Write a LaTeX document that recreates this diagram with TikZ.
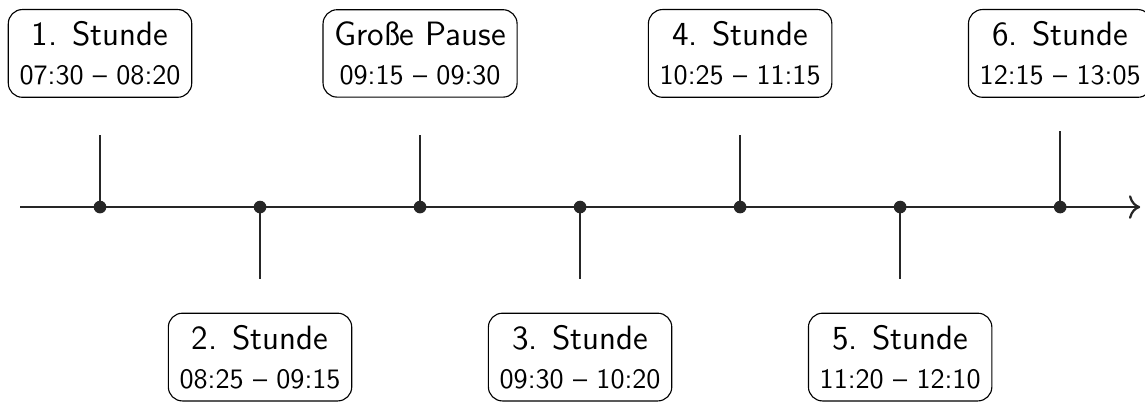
\documentclass[tikz,border=0pt]{standalone}
\usepackage{tikz}
\usetikzlibrary{arrows.meta, positioning}

\begin{document}
\begin{tikzpicture}[
        lesson/.style={rectangle, draw, rounded corners=5pt, font=\sffamily, align=center, inner xsep=4pt, inner ysep=4.2pt},
        dot/.style={circle, fill=black!85, inner sep=0pt, minimum size=4.5pt},
        tick/.style={thick, black!85}
    ]
        \useasboundingbox (-1.25,-2.425) rectangle (13.06,2.5875);

        % Axis
        \coordinate (start) at (-1, 0);
        \coordinate (end) at (13, 0);
        \draw[-{To[length=4pt]}, thick, black!85] (start) -- (end);

        % Lessons above
        \node[lesson] (s1) at (0, 1.92) {{\large 1. Stunde}\\[2pt]07:30 -- 08:20};
        \node[lesson] (gp) at (4, 1.92) {{\large Große Pause}\\[2pt]09:15 -- 09:30};
        \node[lesson] (s4) at (8, 1.92) {{\large 4. Stunde}\\[2pt]10:25 -- 11:15};
        \node[lesson] (s6) at (12, 1.92) {{\large 6. Stunde}\\[2pt]12:15 -- 13:05};

        % Lessons below
        \node[lesson] (s2) at (2, -1.875) {{\large 2. Stunde}\\[2pt]08:25 -- 09:15};
        \node[lesson] (s3) at (6, -1.875) {{\large 3. Stunde}\\[2pt]09:30 -- 10:20};
        \node[lesson] (s5) at (10, -1.875) {{\large 5. Stunde}\\[2pt]11:20 -- 12:10};

        % Tick ends
        \coordinate (t1) at (0, 0.9);
        \coordinate (t2) at (2, -0.9);
        \coordinate (t3) at (4, 0.9);
        \coordinate (t4) at (6, -0.9);
        \coordinate (t5) at (8, 0.9);
        \coordinate (t6) at (10, -0.9);
        \coordinate (t7) at (12, 0.95);

        % Points on the axis
        \node[dot] (d1) at (0, 0) {};
        \node[dot] (d2) at (2, 0) {};
        \node[dot] (d3) at (4, 0) {};
        \node[dot] (d4) at (6, 0) {};
        \node[dot] (d5) at (8, 0) {};
        \node[dot] (d6) at (10, 0) {};
        \node[dot] (d7) at (12, 0) {};

        % Ticks
        \draw[tick] (d1.center) -- (t1);
        \draw[tick] (d2.center) -- (t2);
        \draw[tick] (d3.center) -- (t3);
        \draw[tick] (d4.center) -- (t4);
        \draw[tick] (d5.center) -- (t5);
        \draw[tick] (d6.center) -- (t6);
        \draw[tick] (d7.center) -- (t7);
    \end{tikzpicture}
\end{document}
